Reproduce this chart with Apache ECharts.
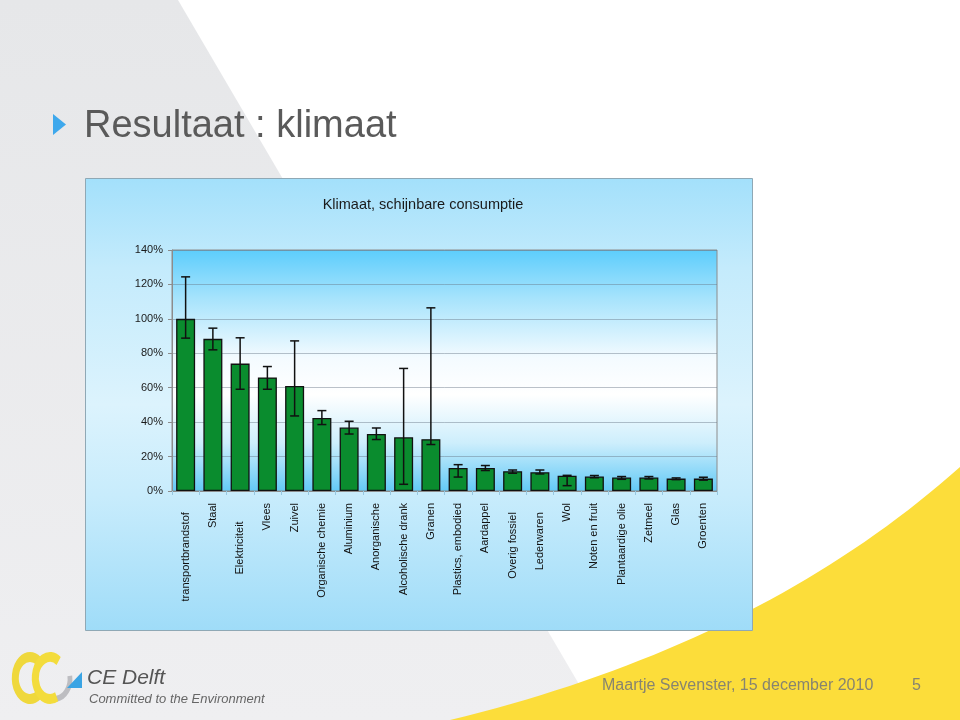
<!DOCTYPE html>
<html>
<head>
<meta charset="utf-8">
<script src="https://cdn.jsdelivr.net/npm/echarts@6/dist/echarts.min.js"></script>
<style>
html,body{margin:0;padding:0;background:#fff;}
#chart{width:960px;height:720px;}
</style>
</head>
<body>
<div id="chart"></div>
<script>
// ---- data ----
var categories = ['transportbrandstof   ','Staal','Elektriciteit      ','Vlees','Zuivel','Organische chemie','Aluminium','Anorganische','Alcoholische drank','Granen','Plastics, embodied','Aardappel','Overig fossiel   ','Lederwaren   ','Wol','Noten en fruit','Plantaardige olie','Zetmeel','Glas','Groenten'];
var values    = [100, 88.4, 74, 66, 61, 42.4, 36.9, 33.1, 31.2, 30.1, 13.4, 13.4, 11.5, 10.9, 8.9, 8.4, 7.8, 7.8, 7.2, 7.2];
var errHigh   = [124.4, 94.6, 89, 72.3, 87.2, 46.7, 40.5, 36.6, 71.2, 106.4, 15.3, 14.8, 12.2, 12.2, 9.1, 9.0, 8.4, 8.4, 7.6, 8.0];
var errLow    = [88.8, 82, 59.1, 59.1, 43.6, 38.6, 33.1, 29.9, 3.9, 27, 8.1, 11.9, 10.3, 9.9, 3.1, 7.7, 6.8, 7.0, 6.6, 6.3];
var yTicks    = [0, 20, 40, 60, 80, 100, 120, 140];
var slideTitle = 'Resultaat : klimaat';
var chartTitle = 'Klimaat, schijnbare consumptie';
var footerText = 'Maartje Sevenster, 15 december 2010';
var pageNumber = '5';

var errData = categories.map(function (c, i) { return [i, errLow[i], errHigh[i]]; });

var chart = echarts.init(document.getElementById('chart'), null, {renderer: 'canvas', width: 960, height: 720});
var LG = echarts.graphic.LinearGradient;
var FONT = '"Liberation Sans", Arial, sans-serif';

// decorative yellow swoosh outline (quadratic curve sampled)
var swoosh = [];
(function () {
  var p0 = [450, 720], p1 = [760, 645], p2 = [960, 467];
  for (var k = 0; k <= 40; k++) {
    var t = k / 40, u = 1 - t;
    swoosh.push([u*u*p0[0] + 2*u*t*p1[0] + t*t*p2[0], u*u*p0[1] + 2*u*t*p1[1] + t*t*p2[1]]);
  }
  swoosh.push([960, 720]);
})();

var option = {
  animation: false,
  backgroundColor: '#ffffff',
  title: {
    text: chartTitle,
    left: 418, top: 192, textAlign: 'center',
    textStyle: {fontFamily: FONT, fontSize: 14.5, fontWeight: 'normal', color: '#1a1a1a'}
  },
  grid: {
    left: 172, right: 243, top: 250, bottom: 229,
    show: true,
    borderColor: '#8c8c8c', borderWidth: 1,
    backgroundColor: new LG(0, 0, 0, 1, [
      {offset: 0, color: '#5ccdfc'},
      {offset: 0.2, color: '#a6e3fc'},
      {offset: 0.45, color: '#f4fbff'},
      {offset: 0.6, color: '#ffffff'},
      {offset: 0.8, color: '#cdeefc'},
      {offset: 1, color: '#62c9f6'}
    ])
  },
  xAxis: {
    type: 'category',
    data: categories,
    axisLine: {show: true, lineStyle: {color: '#8c8c8c', width: 1}},
    axisTick: {show: true, length: 4, lineStyle: {color: '#98c8e0'}},
    axisLabel: {rotate: 90, interval: 0, margin: 12, fontFamily: FONT, fontSize: 11, color: '#111'},
    splitLine: {show: false}
  },
  yAxis: {
    type: 'value',
    min: yTicks[0], max: yTicks[yTicks.length - 1], interval: 20,
    axisLine: {show: true, lineStyle: {color: '#8c8c8c'}},
    axisTick: {show: true, length: 4, lineStyle: {color: '#8c8c8c'}},
    axisLabel: {formatter: '{value}%', margin: 9, fontFamily: FONT, fontSize: 11, color: '#1a1a1a'},
    splitLine: {show: true, lineStyle: {color: 'rgba(105,120,135,0.45)', width: 1}}
  },
  series: [
    {
      type: 'bar',
      data: values,
      barWidth: 19,
      itemStyle: {color: '#0a8c2e', borderColor: '#111', borderWidth: 1.3},
      z: 2
    },
    {
      type: 'custom',
      data: errData,
      encode: {x: 0, y: [1, 2]},
      z: 5,
      renderItem: function (params, api) {
        var idx = api.value(0);
        var lo = api.coord([idx, api.value(1)]);
        var hi = api.coord([idx, api.value(2)]);
        var hw = 4.5;
        var st = {stroke: '#111', lineWidth: 1.5, fill: null};
        return {
          type: 'group',
          children: [
            {type: 'line', shape: {x1: lo[0], y1: lo[1], x2: hi[0], y2: hi[1]}, style: st},
            {type: 'line', shape: {x1: hi[0] - hw, y1: hi[1], x2: hi[0] + hw, y2: hi[1]}, style: st},
            {type: 'line', shape: {x1: lo[0] - hw, y1: lo[1], x2: lo[0] + hw, y2: lo[1]}, style: st}
          ]
        };
      }
    }
  ],
  graphic: [
    // slide background
    {type: 'polygon', z: -100, silent: true,
     shape: {points: [[0,0],[178,0],[600,720],[0,720]]},
     style: {fill: new LG(0, 0, 0, 1, [{offset: 0, color: '#e6e7e9'}, {offset: 1, color: '#efeff1'}])}},
    {type: 'polygon', z: -99, silent: true,
     shape: {points: swoosh},
     style: {fill: '#fcdd3a'}},
    // chart box
    {type: 'rect', z: -50, silent: true,
     shape: {x: 85.5, y: 178.5, width: 667, height: 452},
     style: {stroke: '#8fa8b5', lineWidth: 1,
       fill: new LG(0, 0, 0, 1, [
         {offset: 0, color: '#a3e0fb'},
         {offset: 0.2, color: '#c4ebfc'},
         {offset: 0.5, color: '#dcf3fd'},
         {offset: 0.7, color: '#c8ecfc'},
         {offset: 1, color: '#9fdcf8'}
       ])}},
    // slide title
    {type: 'polygon', z: 10, silent: true,
     shape: {points: [[53,114],[66,124.5],[53,135]]},
     style: {fill: '#3ea8ec'}},
    {type: 'text', z: 10, silent: true, x: 84, y: 127,
     style: {text: slideTitle, fontFamily: FONT, fontSize: 38, fill: '#5a5a5a', verticalAlign: 'middle'}},
    // footer
    {type: 'text', z: 10, silent: true, x: 602, y: 686,
     style: {text: footerText, fontFamily: FONT, fontSize: 16, fill: '#878470', verticalAlign: 'middle'}},
    {type: 'text', z: 10, silent: true, x: 912, y: 686,
     style: {text: pageNumber, fontFamily: FONT, fontSize: 16, fill: '#878470', verticalAlign: 'middle'}},
    // logo
    {type: 'arc', z: 10, silent: true, x: 30, y: 678, scaleX: 0.7,
     shape: {cx: 0, cy: 0, r: 21, startAngle: Math.PI * 0.3, endAngle: Math.PI * 1.7},
     style: {stroke: '#efd83c', lineWidth: 10, fill: null}},
    {type: 'arc', z: 10, silent: true, x: 54, y: 679, scaleX: 0.8,
     shape: {cx: 0, cy: 0, r: 20, startAngle: -Math.PI * 0.05, endAngle: Math.PI * 0.6},
     style: {stroke: '#bdbdc1', lineWidth: 6, fill: null}},
    {type: 'arc', z: 11, silent: true, x: 50, y: 678, scaleX: 0.7,
     shape: {cx: 0, cy: 0, r: 21, startAngle: Math.PI * 0.35, endAngle: Math.PI * 1.7},
     style: {stroke: '#f3dc3c', lineWidth: 10, fill: null}},
    {type: 'polygon', z: 12, silent: true,
     shape: {points: [[67,688],[82,672],[82,688]]},
     style: {fill: '#3aa4e4'}},
    {type: 'text', z: 12, silent: true, x: 87, y: 678,
     style: {text: 'CE Delft', fontFamily: FONT, fontStyle: 'italic', fontSize: 21, fill: '#555', verticalAlign: 'middle'}},
    {type: 'text', z: 12, silent: true, x: 89, y: 699,
     style: {text: 'Committed to the Environment', fontFamily: FONT, fontStyle: 'italic', fontSize: 13, fill: '#666', verticalAlign: 'middle'}}
  ]
};
chart.setOption(option);
</script>
</body>
</html>
